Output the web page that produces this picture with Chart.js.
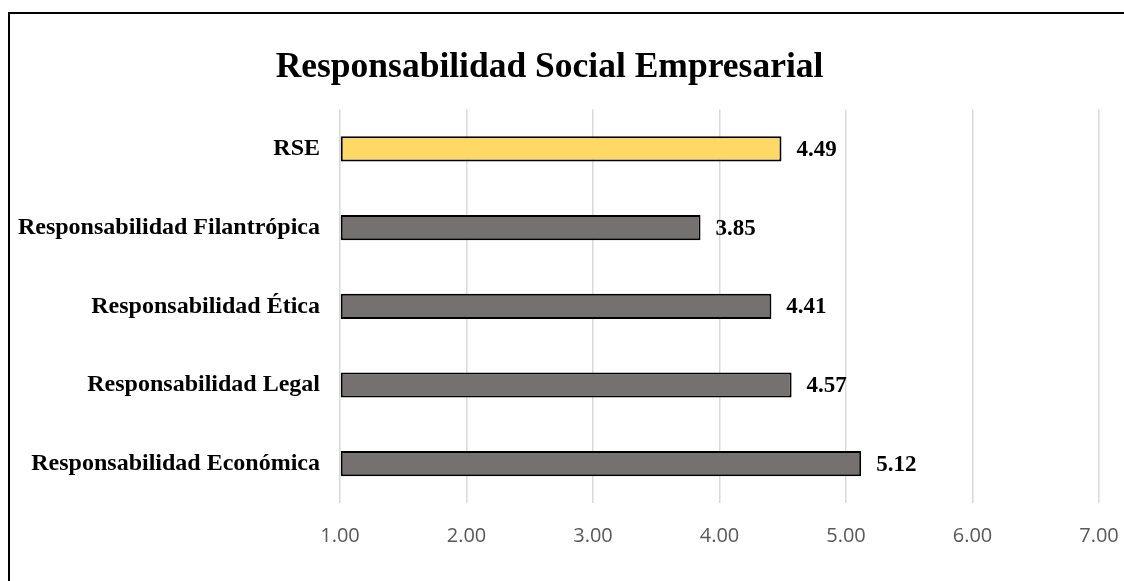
<!DOCTYPE html>
<html lang="es">
<head>
<meta charset="utf-8">
<script src="https://cdn.jsdelivr.net/npm/chart.js@4/dist/chart.umd.min.js"></script>
<style>
    html, body { margin: 0; padding: 0; background: #ffffff; overflow: hidden; }
    #wrap { position: absolute; left: 0; top: 0; width: 1124px; height: 581px; }
    #frame { position: absolute; left: 8px; top: 12px; width: 1140px; height: 620px; border: 2px solid #000; box-sizing: border-box; pointer-events: none; }
</style>
</head>
<body>
<div id="wrap"><canvas id="rseChart"></canvas></div>
<div id="frame"></div>
<script>
// --- Datos del gráfico ---
const categories = [
    'RSE',
    'Responsabilidad Filantrópica',
    'Responsabilidad Ética',
    'Responsabilidad Legal',
    'Responsabilidad Económica'
];
const scores = [4.49, 3.85, 4.41, 4.57, 5.12];
const barColors = ['#FFD966', '#767171', '#767171', '#767171', '#767171'];
const axisMin = 1;
const axisMax = 7;

const serif = '"Liberation Serif", "Times New Roman", serif';

// Etiquetas de valor a la derecha de cada barra
const valueLabels = {
    id: 'valueLabels',
    afterDatasetsDraw(chart) {
        const ctx = chart.ctx;
        const meta = chart.getDatasetMeta(0);
        ctx.save();
        ctx.font = 'bold 23px ' + serif;
        ctx.fillStyle = '#000';
        ctx.textBaseline = 'middle';
        ctx.textAlign = 'left';
        meta.data.forEach((bar, i) => {
            ctx.fillText(scores[i].toFixed(2), bar.x + 15, bar.y + 1);
        });
        ctx.restore();
    }
};

new Chart(document.getElementById('rseChart'), {
    type: 'bar',
    data: {
        labels: categories,
        datasets: [{
            data: scores,
            base: axisMin,
            backgroundColor: barColors,
            borderColor: '#000',
            borderWidth: 2,
            borderSkipped: false,
            barPercentage: 0.32,
            categoryPercentage: 1
        }]
    },
    options: {
        indexAxis: 'y',
        responsive: true,
        maintainAspectRatio: false,
        animation: false,
        layout: { padding: { left: 0, right: 25, top: 0, bottom: 0 } },
        plugins: {
            legend: { display: false },
            tooltip: { enabled: false },
            title: {
                display: true,
                text: 'Responsabilidad Social Empresarial',
                color: '#000',
                font: { family: serif, size: 35.5, weight: 'bold' },
                padding: { top: 47, bottom: 20 }
            }
        },
        scales: {
            x: {
                min: axisMin,
                max: axisMax,
                border: { display: false },
                grid: { color: '#d9d9d9', lineWidth: 1.5, drawTicks: false },
                ticks: {
                    stepSize: 1,
                    padding: 21,
                    color: '#595959',
                    font: { family: '"Open Sans", sans-serif', size: 20 },
                    callback: (v) => Number(v).toFixed(2)
                },
                afterFit: (s) => { s.height = 78; s.paddingLeft = 0; s.paddingRight = 0; }
            },
            y: {
                border: { display: false },
                grid: { display: false, drawTicks: false },
                ticks: {
                    padding: 20,
                    color: '#000',
                    font: { family: serif, size: 24, weight: 'bold' }
                },
                afterFit: (s) => { s.width = 340; }
            }
        }
    },
    plugins: [valueLabels]
});
</script>
</body>
</html>
